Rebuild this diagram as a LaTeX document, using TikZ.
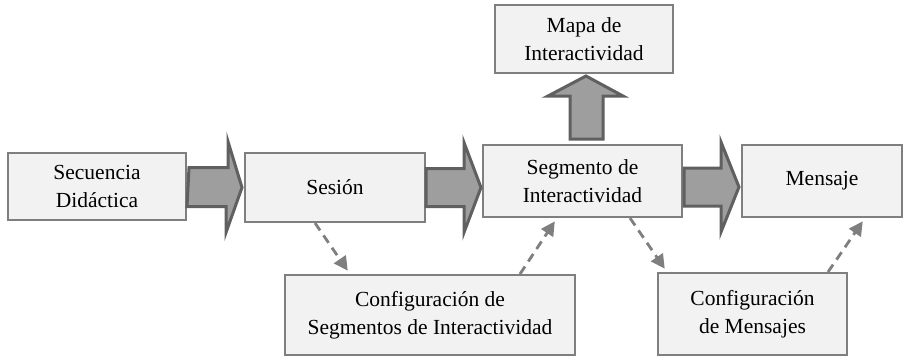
\documentclass[tikz,border=0pt]{standalone}
\usepackage{fontspec}
\setmainfont{Liberation Serif}
\usepackage{tikz}
\usetikzlibrary{calc,arrows.meta}
\definecolor{boxfill}{HTML}{F2F2F2}
\definecolor{boxline}{HTML}{7F7F7F}
\definecolor{fatfill}{HTML}{9E9E9E}
\definecolor{fatline}{HTML}{606060}

\begin{document}
\begin{tikzpicture}[x=1pt,y=-1pt,
  block/.style={draw=boxline, fill=boxfill, line width=2pt, align=center, inner sep=0pt,
    font=\fontsize{21.5}{27.5}\selectfont},
  fat/.style={draw=fatline, fill=fatfill, line width=3pt, line join=miter},
  cfgarrow/.style={draw=boxline, line width=2.8pt, dash pattern=on 9pt off 6pt,
    -{Triangle[length=14pt,width=14pt]}, shorten >=4pt}]
\useasboundingbox (0,0) rectangle (912,357);
\node [block, minimum width=178, minimum height=67] (sec) at (97,186.5) {Secuencia\\Didáctica};
\node [block, minimum width=180, minimum height=69] (ses) at (335,187.5) {Sesión};
\node [block, minimum width=199, minimum height=72] (seg) at (582.5,181) {Segmento de\\Interactividad};
\node [block, minimum width=178, minimum height=68] (mapa) at (584,39) {Mapa de\\Interactividad};
\node [block, minimum width=160, minimum height=72] (men) at (822,181) {Mensaje};
\node [block, minimum width=290, minimum height=80] (cfs) at (430,315) {Configuración de\\Segmentos de Interactividad};
\node [block, minimum width=189, minimum height=82] (cfm) at (752.5,314) {Configuración\\de Mensajes};
% fat arrows
\draw [fat] ([xshift=2pt,yshift=19pt]sec.east) -- ++(39,0) -- ++(0,-26) -- ([xshift=-2pt]ses.west)
  -- ++(-16,45) -- ++(0,-26) -- ++(-39,0) -- cycle;
\draw [fat] ([yshift=19pt]ses.east) -- ++(38,0) -- ++(0,-26) -- ++(17,45) -- ++(-17,45)
  -- ++(0,-26) -- ++(-38,0) -- cycle;
\draw [fat] ([xshift=1pt,yshift=13pt]seg.east) -- ++(37,0) -- ++(0,-26) -- ++(18,45) -- ++(-18,45)
  -- ++(0,-26) -- ++(-37,0) -- cycle;
\draw [fat] ([xshift=-12.5pt,yshift=5pt]seg.north) -- ++(0,-43) -- ++(-22,0) -- ++(38,-20)
  -- ++(37,20) -- ++(-20,0) -- ++(0,43) -- cycle;
% dashed arrows
\draw [cfgarrow] ([xshift=-20pt]ses.south) -- ([xshift=-80pt]cfs.north);
\draw [cfgarrow] ([xshift=90pt]cfs.north) -- ([xshift=-25.5pt]seg.south);
\draw [cfgarrow] ([xshift=47.5pt]seg.south) -- ([xshift=-85.5pt]cfm.north);
\draw [cfgarrow] ([xshift=75.5pt]cfm.north) -- ([xshift=43pt]men.south);
\end{tikzpicture}
\end{document}
